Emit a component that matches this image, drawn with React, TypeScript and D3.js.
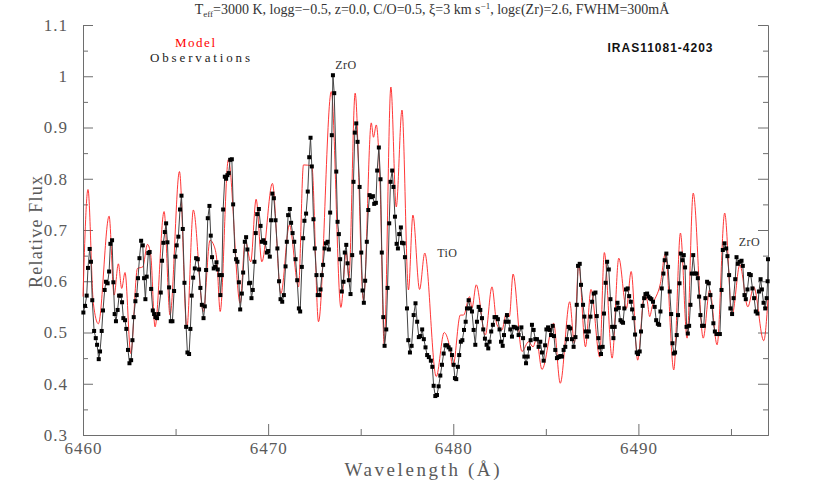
import { useEffect, useRef } from 'react';
import * as d3 from 'd3';

// Observed spectrum of IRAS11081-4203 (wavelength in Angstrom, relative flux)
const obsWave = [
  6460.02, 6460.11, 6460.2, 6460.27, 6460.36, 6460.43, 6460.5, 6460.6, 6460.69, 6460.76,
  6460.85, 6460.92, 6461.01, 6461.08, 6461.17, 6461.24, 6461.33, 6461.41, 6461.48, 6461.57,
  6461.64, 6461.71, 6461.78, 6461.87, 6461.95, 6462.04, 6462.11, 6462.18, 6462.27, 6462.34,
  6462.43, 6462.51, 6462.6, 6462.67, 6462.74, 6462.83, 6462.9, 6462.97, 6463.05, 6463.14,
  6463.23, 6463.3, 6463.37, 6463.44, 6463.53, 6463.6, 6463.68, 6463.77, 6463.84, 6463.91,
  6464.0, 6464.07,
  6464.2, 6464.27, 6464.34, 6464.42, 6464.49, 6464.56, 6464.65, 6464.74, 6464.83, 6464.92,
  6464.99, 6465.06, 6465.15, 6465.24, 6465.32, 6465.39, 6465.48, 6465.57, 6465.64, 6465.73,
  6465.8, 6465.87, 6465.95, 6466.04, 6466.11, 6466.2, 6466.27, 6466.34, 6466.42, 6466.51,
  6466.58, 6466.65, 6466.74, 6466.83, 6466.9, 6466.97, 6467.06, 6467.14, 6467.21, 6467.28,
  6467.37, 6467.42, 6467.5, 6467.57, 6467.66, 6467.73, 6467.8, 6467.87, 6467.95, 6468.04,
  6468.11, 6468.2, 6468.27, 6468.34, 6468.42, 6468.49, 6468.58, 6468.65, 6468.74, 6468.81,
  6468.88, 6468.97,
  6469.03, 6469.1, 6469.17, 6469.26, 6469.33, 6469.41, 6469.5, 6469.59, 6469.66, 6469.75,
  6469.84, 6469.93, 6470.0, 6470.09, 6470.16, 6470.23, 6470.31, 6470.4, 6470.5, 6470.59,
  6470.67, 6470.76, 6470.85, 6470.94, 6471.01, 6471.08, 6471.17, 6471.24, 6471.32, 6471.41,
  6471.48, 6471.57, 6471.66, 6471.73, 6471.82, 6471.89, 6471.96, 6472.05, 6472.14, 6472.22,
  6472.29, 6472.36, 6472.45, 6472.52, 6472.61, 6472.68, 6472.76, 6472.83, 6472.9, 6472.97,
  6473.05, 6473.12, 6473.21, 6473.28, 6473.35,
  6473.44, 6473.5, 6473.57, 6473.68, 6473.75, 6473.82, 6473.89, 6473.98, 6474.07, 6474.14,
  6474.22, 6474.29, 6474.36, 6474.45, 6474.54, 6474.61, 6474.68, 6474.76, 6474.83, 6474.94,
  6475.03, 6475.1, 6475.17, 6475.24, 6475.33, 6475.41, 6475.48, 6475.57, 6475.66, 6475.73,
  6475.82, 6475.89, 6475.98, 6476.07, 6476.14, 6476.22, 6476.29, 6476.38, 6476.45, 6476.54,
  6476.61, 6476.7, 6476.77, 6476.85, 6476.94, 6477.01, 6477.08, 6477.17, 6477.23, 6477.32,
  6477.39, 6477.5, 6477.57, 6477.66, 6477.75, 6477.86, 6477.96, 6478.05, 6478.14, 6478.23,
  6478.32, 6478.41, 6478.5, 6478.59, 6478.68,
  6478.79, 6478.87, 6478.94, 6479.03, 6479.12, 6479.21, 6479.3, 6479.39, 6479.48, 6479.57,
  6479.66, 6479.75, 6479.84, 6479.93, 6480.02, 6480.09, 6480.16, 6480.25, 6480.32, 6480.41,
  6480.49, 6480.58, 6480.67, 6480.74, 6480.83, 6480.92, 6481.01, 6481.1, 6481.19, 6481.28,
  6481.37, 6481.46, 6481.55, 6481.62, 6481.71, 6481.8, 6481.89, 6481.96, 6482.05, 6482.14,
  6482.23, 6482.32, 6482.41, 6482.5, 6482.58, 6482.67, 6482.74, 6482.83, 6482.9, 6482.99,
  6483.08, 6483.17, 6483.26, 6483.35, 6483.44, 6483.53,
  6483.68, 6483.77, 6483.84, 6483.93, 6484.02, 6484.09, 6484.18, 6484.25, 6484.34, 6484.43,
  6484.52, 6484.61, 6484.7, 6484.79, 6484.88, 6484.96, 6485.03, 6485.12, 6485.21, 6485.28,
  6485.37, 6485.44, 6485.51, 6485.6, 6485.69, 6485.78, 6485.87, 6485.96, 6486.05, 6486.14,
  6486.23, 6486.32, 6486.41, 6486.5, 6486.6, 6486.67, 6486.74, 6486.83, 6486.9, 6487.01,
  6487.08, 6487.15, 6487.23, 6487.32, 6487.41, 6487.5, 6487.59, 6487.68, 6487.75, 6487.84,
  6487.91, 6487.98, 6488.07, 6488.14, 6488.23, 6488.31, 6488.4,
  6488.49, 6488.58, 6488.65, 6488.72, 6488.79, 6488.87, 6488.94, 6489.03, 6489.1, 6489.17,
  6489.24, 6489.33, 6489.42, 6489.5, 6489.59, 6489.66, 6489.75, 6489.82, 6489.91, 6489.98,
  6490.07, 6490.14, 6490.23, 6490.31, 6490.38, 6490.47, 6490.54, 6490.63, 6490.7, 6490.79,
  6490.88, 6490.96, 6491.05, 6491.12, 6491.19, 6491.26, 6491.35, 6491.42, 6491.51, 6491.6,
  6491.69, 6491.77, 6491.84, 6491.91, 6491.98, 6492.07, 6492.14, 6492.22, 6492.29, 6492.38,
  6492.45, 6492.52, 6492.6, 6492.67, 6492.74, 6492.81, 6492.88, 6492.96, 6493.05, 6493.14,
  6493.21, 6493.28,
  6493.35, 6493.44, 6493.53, 6493.62, 6493.71, 6493.8, 6493.89, 6493.98, 6494.05, 6494.13,
  6494.22, 6494.31, 6494.4, 6494.49, 6494.56, 6494.65, 6494.74, 6494.81, 6494.9, 6494.97,
  6495.06, 6495.14, 6495.23, 6495.3, 6495.37, 6495.48, 6495.57, 6495.64, 6495.73, 6495.8,
  6495.89, 6495.98, 6496.07, 6496.16, 6496.25, 6496.34, 6496.43, 6496.51, 6496.6, 6496.67,
  6496.76, 6496.85, 6496.93, 6496.98, 6497.0,
];
const obsFlux = [
  0.539, 0.552, 0.572, 0.626, 0.663, 0.638, 0.563, 0.503, 0.489, 0.476,
  0.448, 0.463, 0.503, 0.543, 0.583, 0.599, 0.596, 0.619, 0.673, 0.68,
  0.598, 0.536, 0.522, 0.544, 0.572, 0.572, 0.559, 0.528, 0.524, 0.507,
  0.466, 0.44, 0.446, 0.485, 0.53, 0.561, 0.573, 0.606, 0.645, 0.679,
  0.67, 0.606, 0.565, 0.609, 0.655, 0.657, 0.585, 0.543, 0.536, 0.53,
  0.528, 0.536,
  0.578, 0.64, 0.675, 0.696, 0.713, 0.676, 0.588, 0.522, 0.522, 0.581,
  0.648, 0.67, 0.687, 0.74, 0.767, 0.702, 0.597, 0.511, 0.461, 0.458,
  0.507, 0.572, 0.607, 0.625, 0.645, 0.643, 0.623, 0.587, 0.554, 0.528,
  0.551, 0.622, 0.723, 0.747, 0.689, 0.647, 0.625, 0.628, 0.637, 0.623,
  0.612, 0.573, 0.612, 0.74, 0.804, 0.8, 0.807, 0.811, 0.837, 0.838,
  0.75, 0.659, 0.643, 0.638, 0.598, 0.545, 0.576, 0.617, 0.677, 0.686,
  0.662, 0.596,
  0.597, 0.567, 0.583, 0.638, 0.694, 0.731, 0.741, 0.708, 0.677, 0.68,
  0.675, 0.656, 0.659, 0.648, 0.719, 0.771, 0.762, 0.719, 0.664, 0.6,
  0.565, 0.56, 0.573, 0.629, 0.677, 0.729, 0.741, 0.714, 0.694, 0.677,
  0.643, 0.602, 0.547, 0.541, 0.628, 0.684, 0.718, 0.732, 0.775, 0.842,
  0.88, 0.824, 0.721, 0.664, 0.612, 0.573, 0.573, 0.584, 0.612, 0.632,
  0.664, 0.674, 0.677, 0.662, 0.734,
  0.885, 1.002, 0.967, 0.814, 0.716, 0.692, 0.643, 0.58, 0.599, 0.656,
  0.671, 0.635, 0.602, 0.575, 0.651, 0.794, 0.89, 0.908, 0.872, 0.784,
  0.656, 0.582, 0.558, 0.601, 0.677, 0.739, 0.768, 0.764, 0.766, 0.751,
  0.753, 0.816, 0.861, 0.799, 0.656, 0.53, 0.474, 0.506, 0.587, 0.713,
  0.794, 0.816, 0.784, 0.726, 0.673, 0.664, 0.692, 0.705, 0.675, 0.674,
  0.647, 0.547, 0.485, 0.461, 0.474, 0.534, 0.557, 0.521, 0.491, 0.493,
  0.506, 0.487, 0.471, 0.456, 0.452,
  0.445, 0.433, 0.396, 0.376, 0.378, 0.395, 0.416, 0.437, 0.459, 0.475,
  0.475, 0.471, 0.467, 0.456, 0.437, 0.411, 0.409, 0.433, 0.456, 0.482,
  0.485, 0.505, 0.521, 0.547, 0.563, 0.547, 0.541, 0.505, 0.476, 0.521,
  0.55, 0.544, 0.528, 0.506, 0.488, 0.476, 0.469, 0.482, 0.502, 0.515,
  0.53, 0.53, 0.526, 0.506, 0.482, 0.474, 0.495, 0.521, 0.534, 0.521,
  0.506, 0.492, 0.511, 0.51, 0.508, 0.495,
  0.51, 0.489, 0.453, 0.44, 0.453, 0.469, 0.485, 0.515, 0.505, 0.487,
  0.487, 0.472, 0.482, 0.461, 0.445, 0.475, 0.506, 0.51, 0.505, 0.495,
  0.513, 0.493, 0.466, 0.45, 0.452, 0.454, 0.453, 0.466, 0.472, 0.487,
  0.511, 0.508, 0.487, 0.472, 0.491, 0.554, 0.63, 0.634, 0.593, 0.554,
  0.531, 0.502, 0.492, 0.502, 0.531, 0.56, 0.576, 0.578, 0.532, 0.489,
  0.471, 0.458, 0.472, 0.537, 0.597, 0.638, 0.623,
  0.565, 0.511, 0.489, 0.511, 0.545, 0.558, 0.548, 0.524, 0.521, 0.519,
  0.547, 0.584, 0.586, 0.571, 0.56, 0.545, 0.528, 0.496, 0.461, 0.458,
  0.463, 0.502, 0.552, 0.567, 0.575, 0.576, 0.57, 0.567, 0.565, 0.56,
  0.55, 0.524, 0.517, 0.515, 0.541, 0.586, 0.615, 0.641, 0.654, 0.628,
  0.58, 0.536, 0.479, 0.459, 0.461, 0.495, 0.534, 0.596, 0.654, 0.641,
  0.651, 0.627, 0.511, 0.498, 0.513, 0.554, 0.615, 0.651, 0.615, 0.615,
  0.606, 0.57,
  0.534, 0.513, 0.513, 0.567, 0.599, 0.596, 0.573, 0.55, 0.518, 0.502,
  0.497, 0.497, 0.497, 0.583, 0.661, 0.674, 0.664, 0.649, 0.612, 0.547,
  0.536, 0.567, 0.604, 0.647, 0.634, 0.638, 0.64, 0.63, 0.573, 0.565,
  0.584, 0.614, 0.612, 0.586, 0.567, 0.541, 0.537, 0.58, 0.604, 0.584,
  0.558, 0.547, 0.567, 0.6, 0.643,
];

// Synthetic spectrum, read off at its turning points
const modelWave = [
  6460.0, 6460.27, 6460.56, 6460.83, 6461.41, 6461.68, 6461.91, 6462.09, 6462.27, 6462.58,
  6462.94, 6463.23, 6463.48, 6463.66, 6463.89, 6464.38, 6464.7, 6465.21, 6465.61, 6465.96,
  6466.5, 6466.86, 6467.08, 6467.23, 6467.41, 6467.85, 6468.49, 6468.76, 6469.06, 6469.35,
  6469.66, 6470.23, 6470.69, 6471.15, 6471.64, 6471.91, 6472.36, 6472.72, 6473.41, 6473.93,
  6474.22, 6474.36, 6474.7, 6475.15, 6475.57, 6475.69, 6475.84, 6476.05, 6476.27, 6476.63,
  6476.92, 6477.23, 6477.58, 6477.82, 6478.18, 6478.46, 6479.08, 6479.51, 6479.78, 6479.98,
  6480.38, 6480.56, 6480.88, 6481.01, 6481.24, 6481.73, 6482.09, 6482.36, 6482.63, 6482.86,
  6483.03, 6483.23, 6483.71, 6484.07, 6484.31, 6484.49, 6484.79, 6485.42, 6485.78, 6486.29,
  6486.54, 6486.77, 6487.14, 6487.44, 6487.91, 6488.16, 6488.58, 6488.94, 6489.35, 6489.61,
  6489.96, 6490.32, 6490.47, 6490.61, 6490.74, 6491.19, 6491.46, 6491.91, 6492.27, 6492.63,
  6492.96, 6493.5, 6493.85, 6494.25, 6494.66, 6495.06, 6495.48, 6495.91, 6496.23, 6496.77,
  6497.0,
];
const modelFlux = [
  0.57, 0.779, 0.557, 0.517, 0.727, 0.573, 0.634, 0.586, 0.617, 0.459,
  0.625, 0.628, 0.672, 0.651, 0.511, 0.736, 0.534, 0.814, 0.508, 0.739,
  0.541, 0.68, 0.669, 0.641, 0.541, 0.837, 0.557, 0.68, 0.638, 0.76,
  0.638, 0.791, 0.576, 0.71, 0.589, 0.827, 0.825, 0.521, 0.97, 0.549,
  0.658, 0.606, 0.967, 0.562, 0.909, 0.881, 0.905, 0.784, 0.476, 0.979,
  0.745, 0.934, 0.583, 0.729, 0.584, 0.655, 0.414, 0.5, 0.476, 0.433,
  0.534, 0.534, 0.57, 0.548, 0.593, 0.495, 0.589, 0.515, 0.505, 0.537,
  0.531, 0.614, 0.463, 0.482, 0.472, 0.487, 0.428, 0.518, 0.401, 0.56,
  0.479, 0.634, 0.472, 0.584, 0.452, 0.656, 0.45, 0.645, 0.547, 0.619,
  0.446, 0.573, 0.563, 0.531, 0.55, 0.596, 0.654, 0.427, 0.694, 0.489,
  0.772, 0.489, 0.583, 0.476, 0.733, 0.534, 0.632, 0.55, 0.589, 0.484,
  0.565,
];

const xMajorTicks = [6460, 6470, 6480, 6490];
const xMinorTicks = [6465, 6475, 6485, 6495];
const yMajorTicks = [0.3, 0.4, 0.5, 0.6, 0.7, 0.8, 0.9, 1.0, 1.1];
const yMinorTicks = [0.35, 0.45, 0.55, 0.65, 0.75, 0.85, 0.95, 1.05];

const featureLabels = ['ZrO', 'TiO', 'ZrO'];
const featureWave = [6474.2, 6479.68, 6496.0];
const featureFlux = [1.014, 0.647, 0.669];

const serif = '"Liberation Serif", "DejaVu Serif", serif';

export default function App() {
  const svgRef = useRef<SVGSVGElement | null>(null);

  useEffect(() => {
    if (!svgRef.current) return;
    const svg = d3.select(svgRef.current);
    svg.selectAll('*').remove();

    const x = d3.scaleLinear().domain([6460, 6497]).range([83, 768]);
    const y = d3.scaleLinear().domain([0.3, 1.1]).range([435, 25]);

    const axisColor = '#6e6e6e';
    const styleAxis = (g: any) => {
      g.attr('font-family', serif).attr('font-size', 17);
      g.selectAll('path, line').attr('stroke', axisColor).attr('stroke-width', 1);
      g.selectAll('text').attr('fill', '#5a5a5a').attr('letter-spacing', 1);
    };

    // bottom axis
    svg.append('g')
      .attr('transform', `translate(0,${y(0.3)})`)
      .call(d3.axisBottom(x).tickValues(xMajorTicks).tickSizeInner(-11).tickSizeOuter(0)
        .tickPadding(7).tickFormat(d3.format('d')))
      .call(styleAxis);
    svg.append('g')
      .attr('transform', `translate(0,${y(0.3)})`)
      .call(d3.axisBottom(x).tickValues(xMinorTicks).tickSizeInner(-6).tickSizeOuter(0).tickFormat(() => ''))
      .call(styleAxis);

    // left axis
    svg.append('g')
      .attr('transform', `translate(${x(6460)},0)`)
      .call(d3.axisLeft(y).tickValues(yMajorTicks).tickSizeInner(-10).tickSizeOuter(0)
        .tickPadding(15).tickFormat(d3.format('.1~f')))
      .call(styleAxis);
    svg.append('g')
      .attr('transform', `translate(${x(6460)},0)`)
      .call(d3.axisLeft(y).tickValues(yMinorTicks).tickSizeInner(-5).tickSizeOuter(0).tickFormat(() => ''))
      .call(styleAxis);

    // right axis, ticks only
    svg.append('g')
      .attr('transform', `translate(${x(6497)},0)`)
      .call(d3.axisRight(y).tickValues(yMajorTicks).tickSizeInner(-10).tickSizeOuter(0).tickFormat(() => ''))
      .call(styleAxis);
    svg.append('g')
      .attr('transform', `translate(${x(6497)},0)`)
      .call(d3.axisRight(y).tickValues(yMinorTicks).tickSizeInner(-5).tickSizeOuter(0).tickFormat(() => ''))
      .call(styleAxis);

    // model spectrum
    const model = modelWave.map((w, i) => ({ w, f: modelFlux[i] }));
    const modelLine = d3.line<{ w: number; f: number }>()
      .x(d => x(d.w))
      .y(d => y(d.f))
      .curve(d3.curveMonotoneX);
    svg.append('path')
      .datum(model)
      .attr('fill', 'none')
      .attr('stroke', '#ff2020')
      .attr('stroke-width', 0.9)
      .attr('d', modelLine);

    // observations
    const obs = obsWave.map((w, i) => ({ w, f: obsFlux[i] }));
    const obsLine = d3.line<{ w: number; f: number }>()
      .x(d => x(d.w))
      .y(d => y(d.f));
    svg.append('path')
      .datum(obs)
      .attr('fill', 'none')
      .attr('stroke', '#444')
      .attr('stroke-width', 1)
      .attr('d', obsLine);

    svg.append('g')
      .selectAll('rect')
      .data(obs)
      .enter()
      .append('rect')
      .attr('x', d => x(d.w) - 2)
      .attr('y', d => y(d.f) - 2)
      .attr('width', 4)
      .attr('height', 4)
      .attr('fill', '#000');

    // feature labels
    svg.append('g')
      .selectAll('text')
      .data(featureLabels)
      .enter()
      .append('text')
      .attr('x', (_, i) => x(featureWave[i]))
      .attr('y', (_, i) => y(featureFlux[i]))
      .attr('text-anchor', 'middle')
      .attr('font-family', serif)
      .attr('font-size', 12)
      .attr('letter-spacing', 0.5)
      .attr('fill', '#333')
      .text(d => d);

    // legend
    svg.append('text')
      .attr('x', 195).attr('y', 47)
      .attr('text-anchor', 'middle')
      .attr('font-family', serif).attr('font-size', 13)
      .attr('textLength', 40).attr('lengthAdjust', 'spacing')
      .attr('fill', '#ff0000')
      .text('Model');
    svg.append('text')
      .attr('x', 200).attr('y', 62)
      .attr('text-anchor', 'middle')
      .attr('font-family', serif).attr('font-size', 13)
      .attr('textLength', 100).attr('lengthAdjust', 'spacing')
      .attr('fill', '#222')
      .text('Observations');

    svg.append('text')
      .attr('x', 660).attr('y', 52)
      .attr('text-anchor', 'middle')
      .attr('font-family', '"Liberation Sans", Arial, sans-serif')
      .attr('font-weight', 'bold').attr('font-size', 12)
      .attr('textLength', 105).attr('lengthAdjust', 'spacing')
      .attr('fill', '#111')
      .text('IRAS11081-4203');

    // axis titles
    svg.append('text')
      .attr('x', 422).attr('y', 476)
      .attr('text-anchor', 'middle')
      .attr('font-family', serif).attr('font-size', 19)
      .attr('textLength', 155).attr('lengthAdjust', 'spacing')
      .attr('fill', '#5a5a5a')
      .text('Wavelength (Å)');
    svg.append('text')
      .attr('transform', 'translate(42,232) rotate(-90)')
      .attr('text-anchor', 'middle')
      .attr('font-family', serif).attr('font-size', 18)
      .attr('textLength', 112).attr('lengthAdjust', 'spacing')
      .attr('fill', '#5a5a5a')
      .text('Relative Flux');

    // title
    const title = svg.append('text')
      .attr('x', 432).attr('y', 14)
      .attr('text-anchor', 'middle')
      .attr('font-family', serif).attr('font-size', 14)
      .attr('fill', '#333');
    title.append('tspan').text('T');
    title.append('tspan').attr('font-size', 9).attr('dy', 3).text('eff');
    title.append('tspan').attr('dy', -3).text('=3000  K,  logg=\u22120.5,  z=0.0,  C/O=0.5,  \u03be=3  km  s');
    title.append('tspan').attr('font-size', 9).attr('dy', -5).text('\u22121');
    title.append('tspan').attr('dy', 5).text(',  log\u03b5(Zr)=2.6,  FWHM=300mÅ');
  }, []);

  return (
    <svg
      ref={svgRef}
      width={817}
      height={491}
      style={{ position: 'absolute', left: 0, top: 0, background: '#fff' }}
    />
  );
}
